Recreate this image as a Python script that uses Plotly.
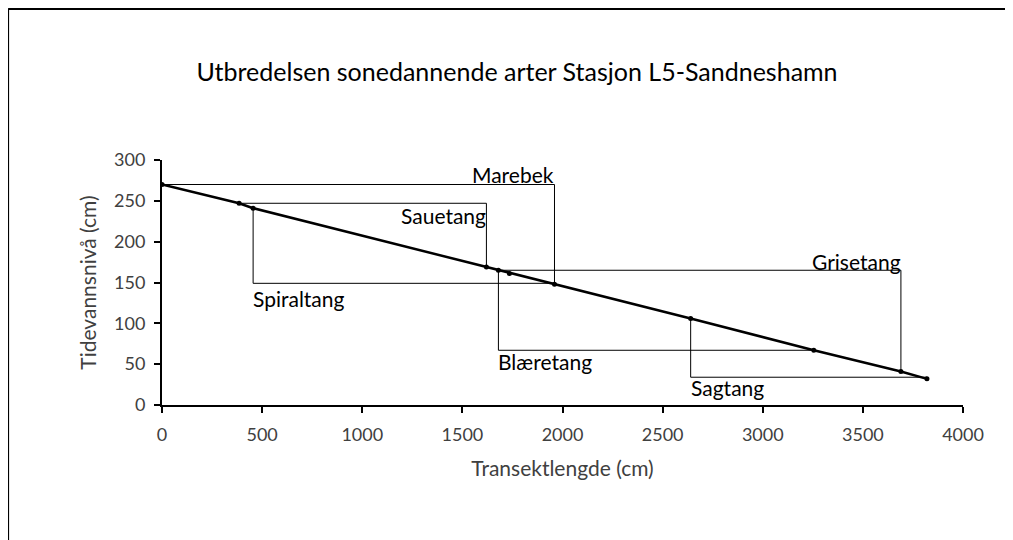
import plotly.graph_objects as go

# målepunkter langs transektet
transekt_x = [0, 385, 455, 1620, 1680, 1735, 1960, 2640, 3255, 3690, 3820]
tidevann_y = [270, 247, 241, 169, 165, 161, 148, 106, 67, 41, 32]

# utbredelse per art (hjørner i "boksene")
arter = ["Marebek", "Sauetang", "Spiraltang", "Grisetang", "Blæretang", "Sagtang"]
arter_x = [
    [0, 1960, 1960],
    [385, 1620, 1620],
    [455, 455, 1960],
    [1680, 3690, 3690],
    [1680, 1680, 3255],
    [2640, 2640, 3820],
]
arter_y = [
    [270, 270, 148],
    [247, 247, 169],
    [241, 149, 149],
    [165, 165, 41],
    [165, 67, 67],
    [106, 34, 34],
]

# etikett-plassering (x, y, justering)
etikett_x = [1960, 1620, 455, 3690, 1680, 2640]
etikett_y = [282, 232, 131, 176, 53, 21]
etikett_anker = ["right", "right", "left", "right", "left", "left"]

x_ticks = [0, 500, 1000, 1500, 2000, 2500, 3000, 3500, 4000]
y_ticks = [0, 50, 100, 150, 200, 250, 300]

FONT = "Lato"
TEKST = "#404040"

W, H = 1005, 532  # siden har 8 px kant i nettleseren

fig = go.Figure()

for navn, xs, ys in zip(arter, arter_x, arter_y):
    fig.add_trace(go.Scatter(
        x=xs, y=ys, mode="lines", name=navn,
        line=dict(color="#000000", width=1),
        hoverinfo="skip", showlegend=False
    ))

fig.add_trace(go.Scatter(
    x=transekt_x, y=tidevann_y, mode="lines+markers",
    line=dict(color="#000000", width=2.5),
    marker=dict(color="#000000", size=5),
    showlegend=False
))

for navn, ex, ey, anker in zip(arter, etikett_x, etikett_y, etikett_anker):
    fig.add_annotation(
        x=ex, y=ey, text=navn, showarrow=False,
        xanchor=anker, yanchor="middle", xshift=2 if anker == "right" else -2,
        font=dict(family=FONT, size=21, color="#000000")
    )

# ramme rundt diagramområdet (kun venstre og topp synlig)
ml, mr, mt, mb = 154, 49.5, 151.5, 134.5
pw, ph = W - ml - mr, H - mt - mb
bx = (0 - ml) / pw
bx_end = (W - ml) / pw
by = 1 + (mt - 0) / ph
fig.add_shape(type="line", xref="paper", yref="paper",
              x0=bx, x1=bx_end, y0=by, y1=by,
              line=dict(color="#000000", width=2))
fig.add_shape(type="line", xref="paper", yref="paper",
              x0=bx, x1=bx, y0=by, y1=-0.6,
              line=dict(color="#000000", width=2))

fig.update_xaxes(
    range=[0, 4000], tickvals=x_ticks, showgrid=False, zeroline=False,
    showline=True, linecolor="#000000", linewidth=2,
    ticks="outside", ticklen=6, tickwidth=2, tickcolor="#000000",
    ticklabelstandoff=6,
    tickfont=dict(family=FONT, size=18, color=TEKST),
    title=dict(text="Transektlengde (cm)", font=dict(family=FONT, size=21, color=TEKST), standoff=18)
)
fig.update_yaxes(
    range=[0, 300], tickvals=y_ticks, showgrid=False, zeroline=False,
    showline=True, linecolor="#000000", linewidth=2,
    ticks="outside", ticklen=6, tickwidth=2, tickcolor="#000000",
    ticklabelstandoff=5,
    tickfont=dict(family=FONT, size=18, color=TEKST),
    title=dict(text="Tidevannsnivå (cm)", font=dict(family=FONT, size=21, color=TEKST), standoff=12)
)

fig.update_layout(
    width=W, height=H,
    paper_bgcolor="#ffffff", plot_bgcolor="#ffffff",
    margin=dict(l=ml, r=mr, t=mt, b=mb),
    title=dict(
        text="Utbredelsen sonedannende arter Stasjon L5-Sandneshamn",
        x=(517 - 8) / W, xanchor="center", y=1 - 64 / H, yanchor="middle",
        font=dict(family=FONT, size=25, color="#000000")
    ),
    showlegend=False
)

fig.write_html("out.html")
